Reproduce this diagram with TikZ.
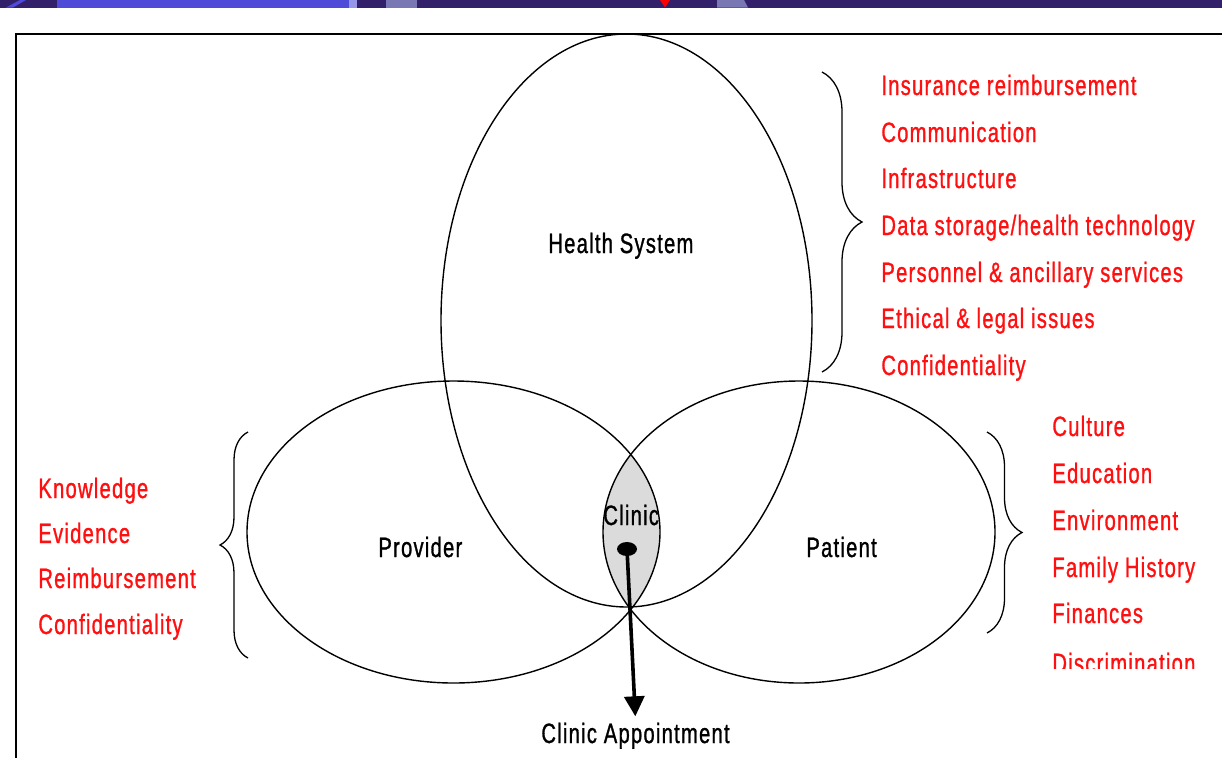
\documentclass[tikz,border=0pt]{standalone}
\usepackage{fontspec}
\setmainfont{Liberation Sans}[FakeStretch=0.72,LetterSpace=4.5,FakeBold=1]
\usetikzlibrary{arrows.meta,shapes.geometric,decorations.pathreplacing}
\definecolor{navy}{RGB}{50,33,106}
\definecolor{barblue}{RGB}{79,75,216}
\definecolor{barlav}{RGB}{150,150,235}
\definecolor{bargrey}{RGB}{122,120,180}
\definecolor{itemred}{RGB}{255,16,16}
\colorlet{lensfill}{black!14}
\tikzset{
  >={Triangle[length=10pt,width=10pt]},
  every node/.style={font=\fontsize{14}{16}\selectfont,inner sep=1pt},
  lbl/.style={anchor=base west,inner xsep=0pt,text=black},
  item/.style={anchor=base west,inner xsep=0pt,text=itemred},
  ring/.style={draw=black,line width=0.7pt},
  brc/.style={draw=black,line width=0.65pt,decorate,decoration={brace,amplitude=#1}},
  blob/.style={ellipse,fill=black,minimum width=10pt,minimum height=7pt,inner sep=0pt},
  flow/.style={->,line width=1.8pt,shorten >=2pt},
  frame/.style={draw=black,line width=1.4pt},
}

\begin{document}
\begin{tikzpicture}[x=0.5pt,y=-0.5pt]
  \useasboundingbox (0,0) rectangle (1222,757);

  % ---------------- slide bar
  \fill[navy] (0,0) rectangle (1222,7.5);
  \fill[barblue] (6,7.5) -- (20,0) -- (26,0) -- (13,7.5) -- cycle;
  \fill[barblue] (57,0) rectangle (349,7.5);
  \fill[barlav] (349,0) rectangle (357,7.5);
  \fill[bargrey] (386,0) rectangle (417,7.5);
  \fill[red] (660,0) -- (670,0) -- (665,7.5) -- cycle;
  \fill[bargrey] (717,0) -- (744,0) -- (748,7.5) -- (717,7.5) -- cycle;

  % ---------------- frame
  \draw[frame] (16,762) -- (16,34) -- (1226,34);

  % ---------------- clinic lens
  \begin{scope}
    \clip (453.5,532) ellipse [x radius=206.5,y radius=151];
    \fill[lensfill] (799,532) ellipse [x radius=196,y radius=151];
  \end{scope}

  % ---------------- circles
  \draw[ring] (626.5,320.5) ellipse [x radius=185.5,y radius=286.5];
  \draw[ring] (453.5,532) ellipse [x radius=206.5,y radius=151];
  \draw[ring] (799,532) ellipse [x radius=196,y radius=151];

  \node[lbl] (hsys) at (548,253) {Health System};
  \node[lbl] (prov) at (378,557) {Provider};
  \node[lbl] (pat)  at (806,557) {Patient};
  \node[lbl] (clin) at (603,525) {Clinic};

  % ---------------- appointment
  \node[blob] (dot) at (627,549) {};
  \node[lbl] (appt) at (541,743) {Clinic Appointment};
  \draw[flow] (dot.center) -- (appt.north);

  % ---------------- health system factors
  \draw[brc=20pt] (822,72) -- (822,372);
  \node[item] (hs1) at (881,95)  {Insurance reimbursement};
  \node[item] (hs2) at (881,142) {Communication};
  \node[item] (hs3) at (881,188) {Infrastructure};
  \node[item] (hs4) at (881,235) {Data storage/health technology};
  \node[item] (hs5) at (881,282) {Personnel \& ancillary services};
  \node[item] (hs6) at (881,328) {Ethical \& legal issues};
  \node[item] (hs7) at (881,375) {Confidentiality};

  % ---------------- provider factors
  \draw[brc=14pt] (248,658) -- (248,432);
  \node[item] (pv1) at (38,498) {Knowledge};
  \node[item] (pv2) at (38,543) {Evidence};
  \node[item] (pv3) at (38,588) {Reimbursement};
  \node[item] (pv4) at (38,634) {Confidentiality};

  % ---------------- patient factors
  \draw[brc=17.5pt] (987,432) -- (987,633);
  \node[item] (pt1) at (1052,436) {Culture};
  \node[item] (pt2) at (1052,483) {Education};
  \node[item] (pt3) at (1052,530) {Environment};
  \node[item] (pt4) at (1052,577) {Family History};
  \node[item] (pt5) at (1052,623) {Finances};
  \begin{scope}
    \clip (1040,640) rectangle (1222,668);
    \node[item] (pt6) at (1052,673) {Discrimination};
  \end{scope}
\end{tikzpicture}
\end{document}
